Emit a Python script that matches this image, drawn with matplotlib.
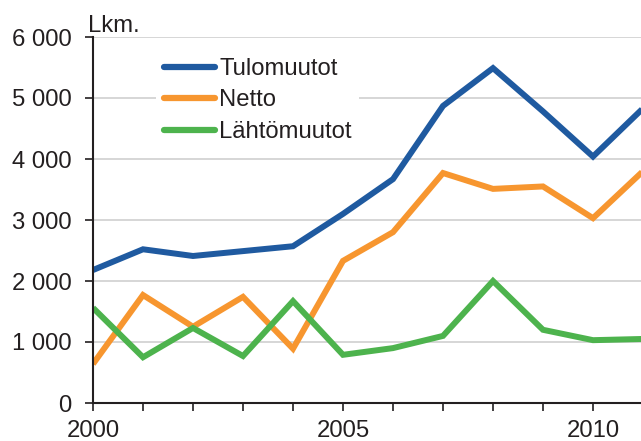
import matplotlib as mpl
mpl.use('Agg')
import matplotlib.pyplot as plt
from matplotlib.ticker import FuncFormatter, MultipleLocator

plt.rcParams['font.family'] = ['Liberation Sans', 'DejaVu Sans']

# data
years = [2000, 2001, 2002, 2003, 2004, 2005, 2006, 2007, 2008, 2009, 2010, 2011]
tulomuutot = [2180, 2520, 2410, 2490, 2570, 3100, 3670, 4870, 5490, 4780, 4040, 4830]
netto = [640, 1770, 1250, 1740, 890, 2330, 2800, 3770, 3510, 3550, 3030, 3800]
lahtomuutot = [1560, 750, 1230, 770, 1670, 790, 900, 1100, 2000, 1200, 1030, 1050]
labels = ['Tulomuutot', 'Netto', 'Lähtömuutot']
colors = ['#1f5aa0', '#f7962f', '#4db34d']

fs = 17.2
txt = '#231f20'

fig = plt.figure(figsize=(6.41, 4.41), dpi=100)
ax = fig.add_axes([93/641, 1 - 403/441, 1 - 93/641, (403 - 37)/441])

for vals, lab, col in zip([tulomuutot, netto, lahtomuutot], labels, colors):
    ax.plot(years, vals, color=col, lw=4.3, label=lab,
            solid_joinstyle='miter', solid_capstyle='butt')

ax.set_xlim(2000, 2010.96)
ax.set_ylim(0, 6000)

ax.yaxis.set_major_locator(MultipleLocator(1000))
ax.yaxis.set_major_formatter(FuncFormatter(lambda v, p: '{:,}'.format(int(v)).replace(',', ' ')))
ax.xaxis.set_major_locator(MultipleLocator(5))
ax.xaxis.set_minor_locator(MultipleLocator(1))

ax.grid(axis='y', color='#d0d0d0', lw=1.2)
ax.set_axisbelow(True)

for s in ['top', 'right']:
    ax.spines[s].set_visible(False)
for s in ['left', 'bottom']:
    ax.spines[s].set_color(txt)
    ax.spines[s].set_linewidth(1.5)

ax.tick_params(axis='y', length=5.8, width=1.2, color=txt, labelsize=fs,
               labelcolor=txt, pad=9.5)
ax.tick_params(axis='x', which='both', length=5.5, width=1.2, color=txt,
               labelsize=fs, labelcolor=txt, pad=7)

fig.text(88/641, 1 - 32/441, 'Lkm.', fontsize=fs, color=txt, va='baseline')

leg = ax.legend(loc='upper left', bbox_to_anchor=(0.094, 0.995), frameon=True,
                framealpha=1, edgecolor='none', fontsize=fs, handlelength=2.13,
                handletextpad=0.2, labelspacing=0.4, borderpad=0.3)
for h in leg.get_lines():
    h.set_linewidth(4.5)
    h.set_solid_capstyle('round')
for t in leg.get_texts():
    t.set_color(txt)

fig.savefig('out.png', dpi=100)
